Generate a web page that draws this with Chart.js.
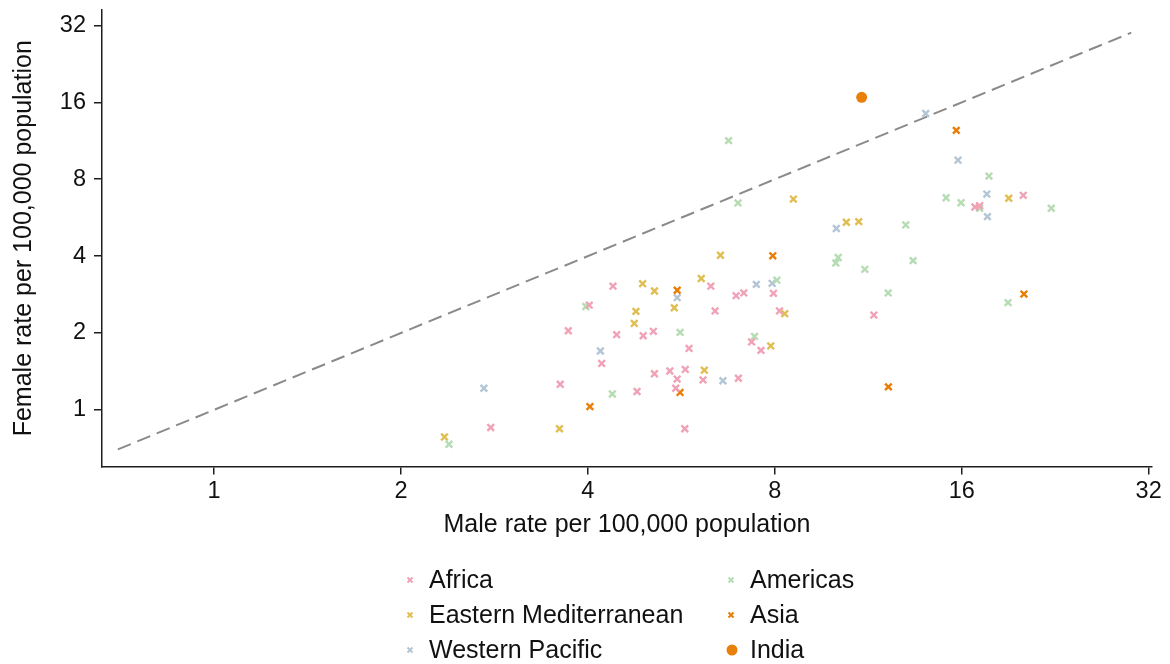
<!DOCTYPE html>
<html>
<head>
<meta charset="utf-8">
<script src="https://cdn.jsdelivr.net/npm/chart.js@4/dist/chart.umd.min.js"></script>
<style>
	html, body { margin: 0; padding: 0; background: #ffffff; }
	#wrap { width: 1170px; height: 664px; position: relative; }
</style>
</head>
<body>
<div id="wrap"><canvas id="chart" width="1170" height="664"></canvas></div>
<script>
// tick labels (both axes are log base 2)
const tickVals = [1, 2, 4, 8, 16, 32];

// series: male rate (x) and female rate (y) per 100,000
const africaX = [4.02, 3.72, 4.39, 4.45, 4.91, 5.10, 4.21, 3.61, 2.79, 4.80, 5.12, 5.42, 5.57, 5.54, 5.74, 5.82, 5.73, 6.13, 6.31, 6.41, 6.93, 7.13, 7.34, 7.60, 6.99, 7.96, 8.14, 16.8, 17.1, 20.1, 11.55];
const africaY = [2.57, 2.04, 3.05, 1.97, 1.95, 2.03, 1.52, 1.26, 0.853, 1.18, 1.385, 1.42, 1.32, 1.215, 1.44, 1.74, 0.843, 1.31, 3.05, 2.44, 2.80, 2.87, 1.845, 1.71, 1.33, 2.86, 2.44, 6.23, 6.30, 6.92, 2.35];

const americasX = [6.74, 6.98, 3.97, 5.63, 7.42, 4.38, 2.39, 8.06, 17.7, 15.1, 15.96, 17.1, 22.3, 13.0, 10.12, 10.03, 11.17, 13.36, 12.18, 19.0];
const americasY = [11.33, 6.46, 2.54, 2.01, 1.94, 1.154, 0.733, 3.22, 8.23, 6.77, 6.47, 6.16, 6.16, 5.30, 3.95, 3.76, 3.55, 3.84, 2.87, 2.63];

const emedX = [2.35, 3.60, 4.90, 5.12, 4.78, 4.75, 6.09, 5.51, 6.54, 6.16, 7.88, 8.30, 8.57, 10.43, 10.92, 19.05];
const emedY = [0.783, 0.843, 3.12, 2.92, 2.43, 2.18, 3.27, 2.51, 4.03, 1.43, 1.78, 2.38, 6.69, 5.43, 5.46, 6.74];

const asiaX = [4.03, 5.57, 5.63, 7.94, 15.68, 20.15, 12.19];
const asiaY = [1.03, 2.94, 1.17, 4.01, 12.43, 2.84, 1.23];

const wpacX = [2.72, 4.19, 5.57, 6.60, 7.47, 7.92, 14.0, 15.78, 17.56, 17.6, 10.05];
const wpacY = [1.215, 1.70, 2.75, 1.30, 3.10, 3.13, 14.47, 9.50, 7.00, 5.71, 5.13];

const indiaX = [11.04];
const indiaY = [16.75];

// line of equality
const refLine = [0.7, 30];

const regionNames = ["Africa", "Americas", "Eastern Mediterranean", "Asia", "Western Pacific", "India"];
const regionColors = ["#f0a2b6", "#b6dcb4", "#e0be52", "#e87e06", "#b4c5d6", "#e8800a"];

const FONT = '"Liberation Sans", Arial, sans-serif';

function toPoints(xs, ys) {
	return xs.map((x, i) => ({ x: x, y: ys[i] }));
}

const seriesXY = [
	[africaX, africaY]
	, [americasX, americasY]
	, [emedX, emedY]
	, [asiaX, asiaY]
	, [wpacX, wpacY]
	, [indiaX, indiaY]
];

const datasets = seriesXY.map((s, i) => {
	const isIndia = regionNames[i] === "India";
	return {
		label: regionNames[i]
		, data: toPoints(s[0], s[1])
		, pointStyle: isIndia ? "circle" : "crossRot"
		, pointRadius: isIndia ? 5.5 : 4.7
		, pointHoverRadius: isIndia ? 5.5 : 4.7
		, borderWidth: isIndia ? 0 : 2.4
		, borderColor: regionColors[i]
		, backgroundColor: regionColors[i]
		, order: 1
	};
});

datasets.unshift({
	label: "equality"
	, type: "line"
	, data: refLine.map(v => ({ x: v, y: v }))
	, borderColor: "#8a8a8a"
	, borderWidth: 2
	, borderDash: [14, 7]
	, pointRadius: 0
	, fill: false
	, order: 10
});

// legend drawn by hand: two columns, row-major
const legendPlugin = {
	id: "handLegend"
	, afterDraw(chart) {
		const ctx = chart.ctx;
		const colX = [410, 731];
		const rowY = [580, 615, 650];
		ctx.save();
		ctx.font = "25px " + FONT;
		ctx.textBaseline = "middle";
		ctx.textAlign = "left";
		regionNames.forEach((name, i) => {
			const mx = colX[i % 2];
			const my = rowY[Math.floor(i / 2)];
			ctx.strokeStyle = regionColors[i];
			ctx.fillStyle = regionColors[i];
			if (name === "India") {
				ctx.beginPath();
				ctx.arc(mx + 1, my, 5.5, 0, Math.PI * 2);
				ctx.fill();
			} else {
				ctx.lineWidth = 2;
				ctx.beginPath();
				ctx.moveTo(mx - 2.5, my - 2.5);
				ctx.lineTo(mx + 2.5, my + 2.5);
				ctx.moveTo(mx + 2.5, my - 2.5);
				ctx.lineTo(mx - 2.5, my + 2.5);
				ctx.stroke();
			}
			ctx.fillStyle = "#111111";
			ctx.fillText(name, mx + 19, my + 1);
		});
		ctx.restore();
	}
};

const axisColor = "#1e1e1e";

new Chart(document.getElementById("chart"), {
	type: "scatter"
	, data: { datasets: datasets }
	, options: {
		responsive: false
		, animation: false
		, events: []
		, layout: {
			padding: { left: 0, right: 18, top: 10, bottom: 117.5 }
		}
		, plugins: {
			legend: { display: false }
			, tooltip: { enabled: false }
		}
		, scales: {
			x: {
				type: "logarithmic"
				, min: 0.66
				, max: 32.4
				, afterBuildTicks: axis => { axis.ticks = tickVals.map(v => ({ value: v })); }
				, afterFit: axis => {
					axis.height = 80;
					axis.paddingLeft = 0;
					axis.paddingRight = 0;
				}
				, border: { display: true, color: axisColor, width: 1.5 }
				, grid: { display: true, drawOnChartArea: false, drawTicks: true, tickLength: 8, color: axisColor, lineWidth: 1.5 }
				, ticks: {
					color: "#111111"
					, font: { family: FONT, size: 23.5 }
					, padding: 3
					, maxRotation: 0
					, autoSkip: false
					, callback: v => String(v)
				}
				, title: {
					display: true
					, text: "Male rate per 100,000 population"
					, color: "#111111"
					, font: { family: FONT, size: 25 }
					, padding: { top: 0, bottom: 6.5 }
				}
			}
			, y: {
				type: "logarithmic"
				, min: 0.614
				, max: 36.8
				, afterBuildTicks: axis => { axis.ticks = tickVals.map(v => ({ value: v })); }
				, afterFit: axis => {
					axis.width = 102;
					axis.paddingTop = 0;
					axis.paddingBottom = 0;
				}
				, border: { display: true, color: axisColor, width: 1.5 }
				, grid: { display: true, drawOnChartArea: false, drawTicks: true, tickLength: 8, color: axisColor, lineWidth: 1.5 }
				, ticks: {
					color: "#111111"
					, font: { family: FONT, size: 23.5 }
					, padding: 8
					, autoSkip: false
					, callback: v => String(v)
				}
				, title: {
					display: true
					, text: "Female rate per 100,000 population"
					, color: "#111111"
					, font: { family: FONT, size: 25 }
					, padding: { top: 9, bottom: 0 }
				}
			}
		}
	}
	, plugins: [legendPlugin]
});
</script>
</body>
</html>
